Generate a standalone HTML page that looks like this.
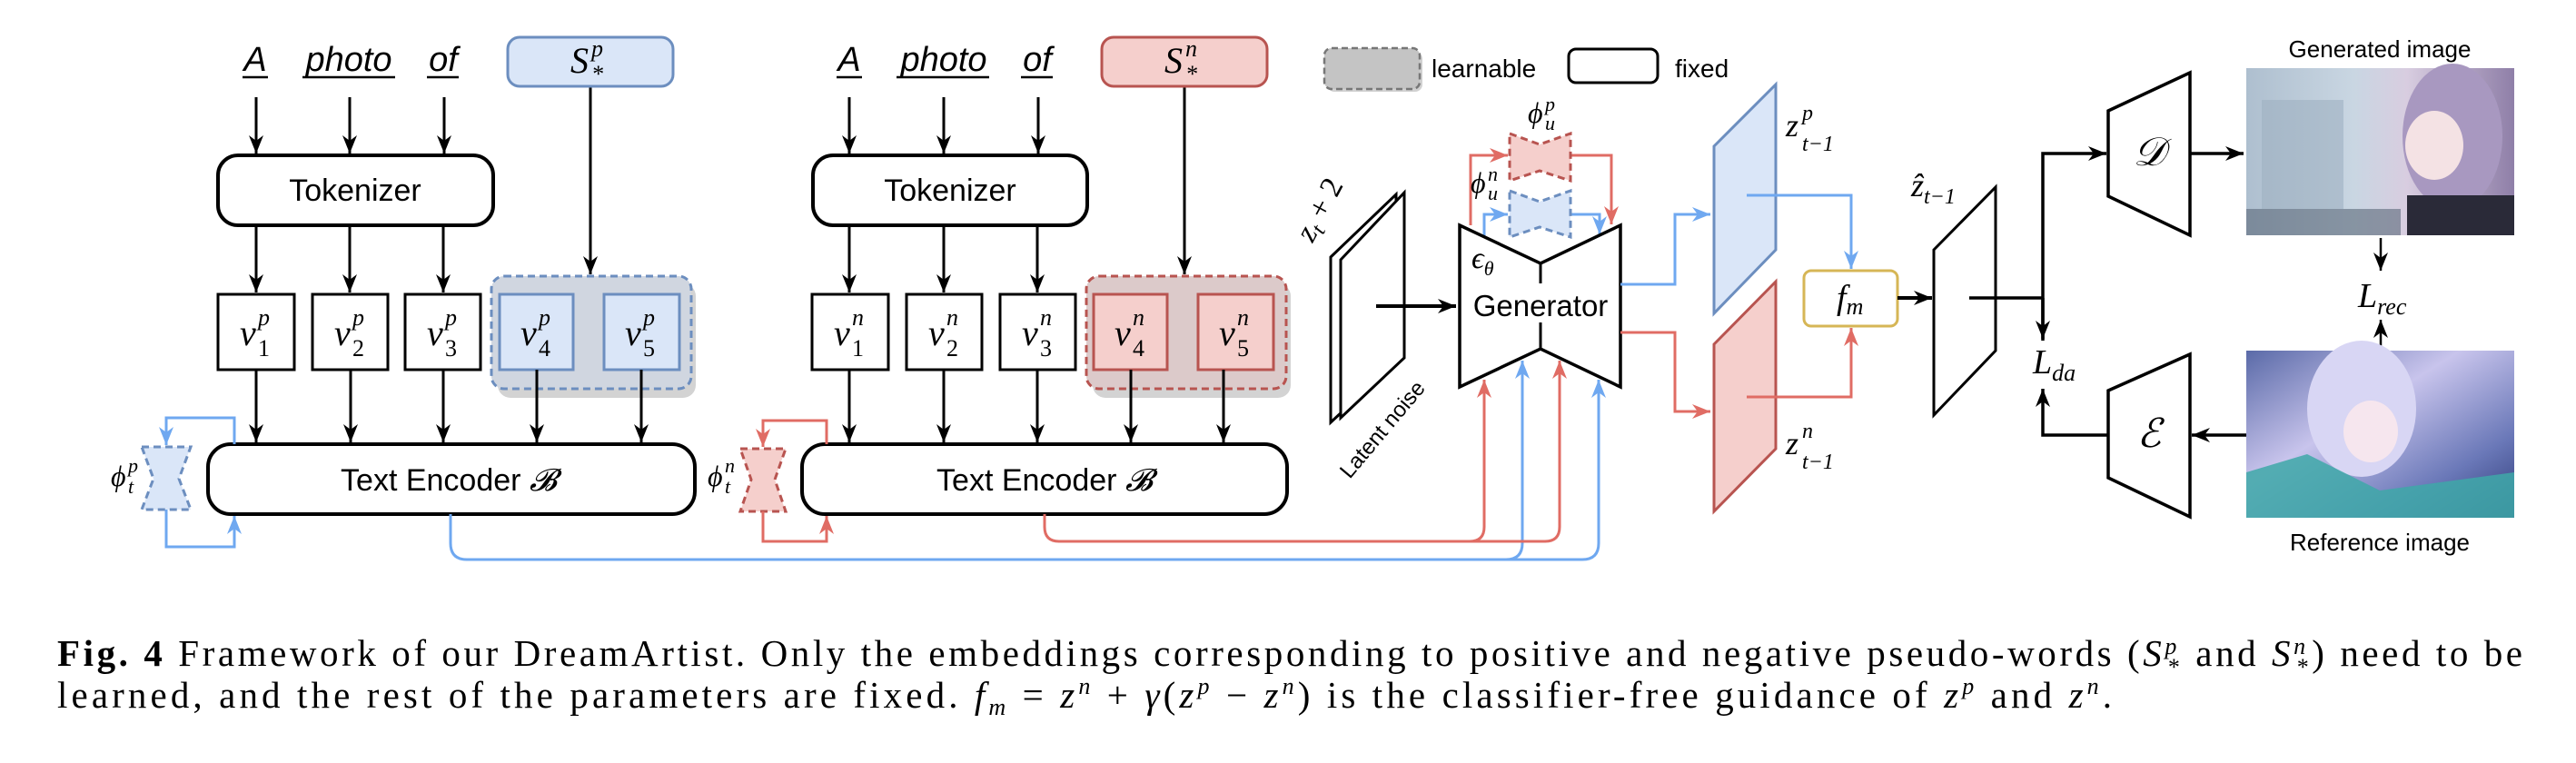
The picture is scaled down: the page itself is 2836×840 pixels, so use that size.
<!DOCTYPE html>
<html><head><meta charset="utf-8"><style>
html,body{margin:0;padding:0;background:#fff;}
svg{display:block;}
.m{font-family:"Liberation Serif",serif;font-style:italic;}
.s{font-family:"Liberation Sans",sans-serif;}
</style></head><body>
<svg width="2836" height="840" viewBox="0 0 2836 840" xmlns="http://www.w3.org/2000/svg">
<defs>
<marker id="ab" markerUnits="userSpaceOnUse" markerWidth="22" markerHeight="16" refX="20" refY="8" orient="auto"><path d="M0,0 L20,8 L0,16 L6,8 z" fill="#000"/></marker>
<marker id="abl" markerUnits="userSpaceOnUse" markerWidth="22" markerHeight="16" refX="20" refY="8" orient="auto"><path d="M0,0 L20,8 L0,16 L6,8 z" fill="#6fa8f0"/></marker>
<marker id="ar" markerUnits="userSpaceOnUse" markerWidth="22" markerHeight="16" refX="20" refY="8" orient="auto"><path d="M0,0 L20,8 L0,16 L6,8 z" fill="#e06c64"/></marker>
<linearGradient id="g1" x1="0" y1="0" x2="1" y2="0"><stop offset="0" stop-color="#aebfcf"/><stop offset="0.4" stop-color="#c9d6e2"/><stop offset="0.6" stop-color="#d8cde0"/><stop offset="1" stop-color="#8f7fa8"/></linearGradient>
<linearGradient id="g2" x1="0" y1="0" x2="1" y2="1"><stop offset="0" stop-color="#5a6aa8"/><stop offset="0.4" stop-color="#c8c4ec"/><stop offset="0.75" stop-color="#6a78b8"/><stop offset="1" stop-color="#2e3a78"/></linearGradient>
</defs>

<g stroke="#000" stroke-width="3" fill="none">
<line x1="282" y1="107" x2="282" y2="169" marker-end="url(#ab)"/>
<line x1="385" y1="107" x2="385" y2="169" marker-end="url(#ab)"/>
<line x1="489" y1="107" x2="489" y2="169" marker-end="url(#ab)"/>
<line x1="650" y1="95" x2="650" y2="302" marker-end="url(#ab)"/>
<rect x="240" y="171" width="303" height="77" rx="22" fill="#fff" stroke-width="4"/>
<line x1="282" y1="248" x2="282" y2="322" marker-end="url(#ab)"/>
<line x1="385" y1="248" x2="385" y2="322" marker-end="url(#ab)"/>
<line x1="488" y1="248" x2="488" y2="322" marker-end="url(#ab)"/>
</g>
<rect x="548" y="312" width="218" height="126" rx="14" fill="#c8c8c8" opacity="0.8"/>
<rect x="541" y="304" width="220" height="124" rx="14" fill="#d0d6e0" stroke="#6c8ebf" stroke-width="3" stroke-dasharray="8,5"/>
<g stroke-width="3">
<rect x="240" y="324" width="84" height="83" fill="#fff" stroke="#000"/>
<rect x="344" y="324" width="83" height="83" fill="#fff" stroke="#000"/>
<rect x="446" y="324" width="83" height="83" fill="#fff" stroke="#000"/>
<rect x="550" y="324" width="81" height="83" fill="#dae6f8" stroke="#6c8ebf"/>
<rect x="665" y="324" width="83" height="83" fill="#dae6f8" stroke="#6c8ebf"/>
</g>
<g stroke="#000" stroke-width="3" fill="none">
<line x1="282" y1="407" x2="282" y2="487" marker-end="url(#ab)"/>
<line x1="386" y1="407" x2="386" y2="487" marker-end="url(#ab)"/>
<line x1="488" y1="407" x2="488" y2="487" marker-end="url(#ab)"/>
<line x1="591" y1="407" x2="591" y2="487" marker-end="url(#ab)"/>
<line x1="706" y1="407" x2="706" y2="487" marker-end="url(#ab)"/>
<rect x="229" y="489" width="536" height="77" rx="25" fill="#fff" stroke-width="4"/>
</g>
<rect x="559" y="41" width="182" height="54" rx="13" fill="#dae6f8" stroke="#6c8ebf" stroke-width="3"/>
<polygon points="156,492 210,492 197,527 210,561 156,561 169,527" fill="#dae6f8" stroke="#6c8ebf" stroke-width="3" stroke-dasharray="8,5"/>
<g stroke="#6fa8f0" stroke-width="3" fill="none">
<polyline points="258,489 258,460 183,460 183,490" marker-end="url(#abl)"/>
<polyline points="183,561 183,602 258,602 258,568" marker-end="url(#abl)"/>
<path d="M496,566 L496,598 Q496,616 514,616 L1658,616 Q1676,616 1676,598 L1676,397" marker-end="url(#abl)"/>
<path d="M1600,616 L1742,616 Q1760,616 1760,598 L1760,418" marker-end="url(#abl)"/>
</g>

<g stroke="#000" stroke-width="3" fill="none">
<line x1="935" y1="107" x2="935" y2="169" marker-end="url(#ab)"/>
<line x1="1039" y1="107" x2="1039" y2="169" marker-end="url(#ab)"/>
<line x1="1143" y1="107" x2="1143" y2="169" marker-end="url(#ab)"/>
<line x1="1304" y1="95" x2="1304" y2="302" marker-end="url(#ab)"/>
<rect x="895" y="171" width="302" height="77" rx="22" fill="#fff" stroke-width="4"/>
<line x1="935" y1="248" x2="935" y2="322" marker-end="url(#ab)"/>
<line x1="1039" y1="248" x2="1039" y2="322" marker-end="url(#ab)"/>
<line x1="1142" y1="248" x2="1142" y2="322" marker-end="url(#ab)"/>
</g>
<rect x="1203" y="312" width="218" height="126" rx="14" fill="#c8c8c8" opacity="0.8"/>
<rect x="1196" y="304" width="220" height="124" rx="14" fill="#dccaca" stroke="#b85450" stroke-width="3" stroke-dasharray="8,5"/>
<g stroke-width="3">
<rect x="894" y="324" width="84" height="83" fill="#fff" stroke="#000"/>
<rect x="998" y="324" width="83" height="83" fill="#fff" stroke="#000"/>
<rect x="1101" y="324" width="83" height="83" fill="#fff" stroke="#000"/>
<rect x="1204" y="324" width="81" height="83" fill="#f5cfcc" stroke="#b85450"/>
<rect x="1319" y="324" width="83" height="83" fill="#f5cfcc" stroke="#b85450"/>
</g>
<g stroke="#000" stroke-width="3" fill="none">
<line x1="935" y1="407" x2="935" y2="487" marker-end="url(#ab)"/>
<line x1="1039" y1="407" x2="1039" y2="487" marker-end="url(#ab)"/>
<line x1="1142" y1="407" x2="1142" y2="487" marker-end="url(#ab)"/>
<line x1="1245" y1="407" x2="1245" y2="487" marker-end="url(#ab)"/>
<line x1="1347" y1="407" x2="1347" y2="487" marker-end="url(#ab)"/>
<rect x="883" y="489" width="534" height="77" rx="25" fill="#fff" stroke-width="4"/>
</g>
<rect x="1213" y="41" width="182" height="54" rx="13" fill="#f5cfcc" stroke="#b85450" stroke-width="3"/>
<polygon points="815,494 865,494 853,528 865,563 815,563 827,528" fill="#f5cfcc" stroke="#b85450" stroke-width="3" stroke-dasharray="8,5"/>
<g stroke="#e06c64" stroke-width="3" fill="none">
<polyline points="910,489 910,463 840,463 840,492" marker-end="url(#ar)"/>
<polyline points="840,563 840,596 910,596 910,568" marker-end="url(#ar)"/>
<path d="M1150,566 L1150,580 Q1150,596 1166,596 L1618,596 Q1634,596 1634,580 L1634,418" marker-end="url(#ar)"/>
<path d="M1600,596 L1701,596 Q1717,596 1717,580 L1717,397" marker-end="url(#ar)"/>
</g>

<rect x="1461" y="57" width="105" height="44" rx="8" fill="#bdbdbd" opacity="0.7"/>
<rect x="1458" y="53" width="105" height="45" rx="8" fill="#c4c4c4" stroke="#777" stroke-width="2.5" stroke-dasharray="7,4"/>
<rect x="1727" y="54" width="98" height="37" rx="8" fill="#fff" stroke="#000" stroke-width="3"/>
<text x="1576" y="85" class="s" font-size="28">learnable</text>
<text x="1844" y="85" class="s" font-size="28">fixed</text>

<g stroke="#000" stroke-width="3" fill="#fff">
<polygon points="1465,283 1537,214 1537,398 1465,465"/>
<polygon points="1476,286 1546,212 1546,394 1476,460"/>
</g>
<text transform="translate(1445,268) rotate(-62)" class="m" font-size="34">z<tspan font-size="24" dy="6">t</tspan><tspan dy="-6" font-style="normal"> + 2</tspan></text>
<text transform="translate(1486,528) rotate(-50)" class="s" font-size="24">Latent noise</text>
<line x1="1515" y1="337" x2="1603" y2="337" stroke="#000" stroke-width="4" marker-end="url(#ab)"/>

<g stroke="#e06c64" stroke-width="3" fill="none">
<polyline points="1619,248 1619,171 1660,171" marker-end="url(#ar)"/>
<polyline points="1729,171 1774,171 1774,247" marker-end="url(#ar)"/>
</g>
<g stroke="#6fa8f0" stroke-width="3" fill="none">
<polyline points="1634,260 1634,236 1660,236" marker-end="url(#abl)"/>
<polyline points="1729,236 1761,236 1761,258" marker-end="url(#abl)"/>
</g>
<polygon points="1662,147 1695,159 1729,147 1729,199 1695,188 1662,199" fill="#f5cfcc" stroke="#b85450" stroke-width="3" stroke-dasharray="8,5"/>
<polygon points="1662,210 1695,222 1729,210 1729,261 1695,250 1662,261" fill="#dae6f8" stroke="#6c8ebf" stroke-width="3" stroke-dasharray="8,5"/>
<polygon points="1607,248 1696,290 1784,248 1784,426 1696,384 1607,426" fill="#fff" stroke="#000" stroke-width="3.5"/>
<line x1="1696" y1="290" x2="1696" y2="312" stroke="#000" stroke-width="3"/>
<line x1="1696" y1="355" x2="1696" y2="384" stroke="#000" stroke-width="3"/>
<text x="1696" y="348" class="s" font-size="33" text-anchor="middle">Generator</text>
<text x="1620" y="295" class="m" font-size="34">ϵ<tspan font-size="22" dy="8">θ</tspan></text>

<g stroke-width="3" fill="none">
<polyline points="1784,313 1844,313 1844,236 1883,236" stroke="#6fa8f0" marker-end="url(#abl)"/>
<polyline points="1784,366 1844,366 1844,453 1883,453" stroke="#e06c64" marker-end="url(#ar)"/>
</g>
<polygon points="1887,161 1955,93 1955,275 1887,345" fill="#dae6f8" stroke="#6c8ebf" stroke-width="3"/>
<polygon points="1887,379 1955,310 1955,494 1887,563" fill="#f5cfcc" stroke="#b85450" stroke-width="3"/>
<g stroke-width="3" fill="none">
<polyline points="1923,215 2038,215 2038,296" stroke="#6fa8f0" marker-end="url(#abl)"/>
<polyline points="1923,437 2038,437 2038,361" stroke="#e06c64" marker-end="url(#ar)"/>
</g>
<rect x="1986" y="298" width="103" height="61" rx="8" fill="#fff" stroke="#d6b656" stroke-width="3"/>
<text x="2022" y="340" class="m" font-size="38">f<tspan font-size="26" dy="6">m</tspan></text>

<line x1="2089" y1="328" x2="2127" y2="328" stroke="#000" stroke-width="4" marker-end="url(#ab)"/>
<polygon points="2129,275 2197,206 2197,386 2129,457" fill="#fff" stroke="#000" stroke-width="3"/>
<g stroke="#000" stroke-width="3.5" fill="none">
<polyline points="2168,328 2249,328"/>
<polyline points="2249,375 2249,169 2319,169" marker-end="url(#ab)"/>
<line x1="2249" y1="328" x2="2249" y2="373" marker-end="url(#ab)"/>
<polyline points="2321,479 2249,479 2249,428" marker-end="url(#ab)"/>
<line x1="2411" y1="169" x2="2470" y2="169" marker-end="url(#ab)"/>
<line x1="2473" y1="479" x2="2413" y2="479" marker-end="url(#ab)"/>
<line x1="2621" y1="262" x2="2621" y2="298" stroke-width="2.5" marker-end="url(#ab)"/>
<line x1="2621" y1="386" x2="2621" y2="352" stroke-width="2.5" marker-end="url(#ab)"/>
<polygon points="2321,122 2411,80 2411,259 2321,216" fill="#fff"/>
<polygon points="2321,430 2411,390 2411,569 2321,526" fill="#fff"/>
</g>
<text x="2366" y="182" class="m" font-size="44" text-anchor="middle">𝒟</text>
<text x="2366" y="492" class="m" font-size="44" text-anchor="middle">ℰ</text>

<rect x="2473" y="75" width="295" height="184" fill="url(#g1)"/>
<rect x="2490" y="110" width="90" height="120" fill="#9fb0c2" opacity="0.6"/>
<ellipse cx="2700" cy="150" rx="55" ry="80" fill="#a898c0"/>
<ellipse cx="2680" cy="160" rx="32" ry="38" fill="#f4e2e4"/>
<rect x="2650" y="215" width="118" height="44" fill="#2a2a38"/>
<rect x="2473" y="230" width="170" height="29" fill="#5a6878" opacity="0.6"/>
<text x="2620" y="63" class="s" font-size="26" text-anchor="middle">Generated image</text>
<rect x="2473" y="386" width="295" height="184" fill="url(#g2)"/>
<ellipse cx="2600" cy="450" rx="60" ry="75" fill="#d8d6f4"/>
<ellipse cx="2610" cy="475" rx="30" ry="34" fill="#f6e6ee"/>
<path d="M2473,520 L2540,500 L2620,540 L2768,520 L2768,570 L2473,570 z" fill="#3ea8a8" opacity="0.85"/>
<text x="2620" y="606" class="s" font-size="26" text-anchor="middle">Reference image</text>

<text x="2238" y="411" class="m" font-size="38">L<tspan font-size="26" dy="8">da</tspan></text>
<text x="2596" y="338" class="m" font-size="38">L<tspan font-size="26" dy="8">rec</tspan></text>
<text x="2104" y="216" class="m" font-size="36">ẑ<tspan font-size="24" dy="8">t−1</tspan></text>
<text x="1966" y="150" class="m" font-size="36">z</text><text x="1984" y="132" class="m" font-size="24">p</text><text x="1984" y="166" class="m" font-size="24">t−1</text>
<text x="1966" y="500" class="m" font-size="36">z</text><text x="1984" y="482" class="m" font-size="24">n</text><text x="1984" y="516" class="m" font-size="24">t−1</text>
<text x="1682" y="135" class="m" font-size="32">ϕ</text><text x="1701" y="122" class="m" font-size="22">p</text><text x="1701" y="143" class="m" font-size="22">u</text>
<text x="1619" y="212" class="m" font-size="32">ϕ</text><text x="1638" y="199" class="m" font-size="22">n</text><text x="1638" y="220" class="m" font-size="22">u</text>
<text x="122" y="535" class="m" font-size="32">ϕ</text><text x="141" y="520" class="m" font-size="22">p</text><text x="141" y="543" class="m" font-size="22">t</text>
<text x="779" y="535" class="m" font-size="32">ϕ</text><text x="798" y="520" class="m" font-size="22">n</text><text x="798" y="543" class="m" font-size="22">t</text>

<g class="s" font-size="38" font-style="italic" text-anchor="middle">
<text x="281" y="78">A</text><text x="384" y="78">photo</text><text x="488" y="78">of</text>
<text x="935" y="78">A</text><text x="1039" y="78">photo</text><text x="1142" y="78">of</text>
</g>
<g stroke="#000" stroke-width="2.5">
<line x1="267" y1="85" x2="295" y2="85"/><line x1="333" y1="85" x2="435" y2="85"/><line x1="470" y1="85" x2="505" y2="85"/>
<line x1="921" y1="85" x2="949" y2="85"/><line x1="987" y1="85" x2="1089" y2="85"/><line x1="1124" y1="85" x2="1159" y2="85"/>
</g>
<text x="628" y="80" class="m" font-size="40">S</text><text x="651" y="62" class="m" font-size="26">p</text><text x="651" y="90" class="m" font-size="26">*</text>
<text x="1282" y="80" class="m" font-size="40">S</text><text x="1305" y="62" class="m" font-size="26">n</text><text x="1305" y="90" class="m" font-size="26">*</text>

<g class="s" font-size="34" text-anchor="middle">
<text x="391" y="221">Tokenizer</text><text x="1046" y="221">Tokenizer</text>
<text x="494" y="540">Text Encoder <tspan class="m">𝓑</tspan></text>
<text x="1150" y="540">Text Encoder <tspan class="m">𝓑</tspan></text>
</g>

<g class="m">
<text x="264" y="380" font-size="40">v</text><text x="284" y="358" font-size="26">p</text><text x="284" y="392" font-size="26" font-style="normal">1</text>
<text x="368" y="380" font-size="40">v</text><text x="388" y="358" font-size="26">p</text><text x="388" y="392" font-size="26" font-style="normal">2</text>
<text x="470" y="380" font-size="40">v</text><text x="490" y="358" font-size="26">p</text><text x="490" y="392" font-size="26" font-style="normal">3</text>
<text x="573" y="380" font-size="40">v</text><text x="593" y="358" font-size="26">p</text><text x="593" y="392" font-size="26" font-style="normal">4</text>
<text x="688" y="380" font-size="40">v</text><text x="708" y="358" font-size="26">p</text><text x="708" y="392" font-size="26" font-style="normal">5</text>
<text x="918" y="380" font-size="40">v</text><text x="938" y="358" font-size="26">n</text><text x="938" y="392" font-size="26" font-style="normal">1</text>
<text x="1022" y="380" font-size="40">v</text><text x="1042" y="358" font-size="26">n</text><text x="1042" y="392" font-size="26" font-style="normal">2</text>
<text x="1125" y="380" font-size="40">v</text><text x="1145" y="358" font-size="26">n</text><text x="1145" y="392" font-size="26" font-style="normal">3</text>
<text x="1227" y="380" font-size="40">v</text><text x="1247" y="358" font-size="26">n</text><text x="1247" y="392" font-size="26" font-style="normal">4</text>
<text x="1342" y="380" font-size="40">v</text><text x="1362" y="358" font-size="26">n</text><text x="1362" y="392" font-size="26" font-style="normal">5</text>
</g>

<text x="63" y="733" font-family="Liberation Serif, serif" font-size="41" textLength="2714" lengthAdjust="spacing"><tspan font-weight="bold">Fig. 4</tspan>  Framework of our DreamArtist. Only the embeddings corresponding to positive and negative pseudo-words (<tspan font-style="italic">S</tspan><tspan font-size="26" font-style="italic" dy="-13">p</tspan><tspan font-size="26" dx="-13" dy="23">*</tspan><tspan dy="-10"> and </tspan><tspan font-style="italic">S</tspan><tspan font-size="26" font-style="italic" dy="-13">n</tspan><tspan font-size="26" dx="-13" dy="23">*</tspan><tspan dy="-10">) need to be</tspan></text>
<text x="63" y="779" font-family="Liberation Serif, serif" font-size="41" textLength="2262" lengthAdjust="spacing">learned, and the rest of the parameters are fixed. <tspan font-style="italic">f</tspan><tspan font-size="26" font-style="italic" dy="8">m</tspan><tspan dy="-8"> = </tspan><tspan font-style="italic">z</tspan><tspan font-size="26" font-style="italic" dy="-15">n</tspan><tspan dy="15"> + </tspan><tspan font-style="italic">γ</tspan>(<tspan font-style="italic">z</tspan><tspan font-size="26" font-style="italic" dy="-15">p</tspan><tspan dy="15"> − </tspan><tspan font-style="italic">z</tspan><tspan font-size="26" font-style="italic" dy="-15">n</tspan><tspan dy="15">) is the classifier-free guidance of </tspan><tspan font-style="italic">z</tspan><tspan font-size="26" font-style="italic" dy="-15">p</tspan><tspan dy="15"> and </tspan><tspan font-style="italic">z</tspan><tspan font-size="26" font-style="italic" dy="-15">n</tspan><tspan dy="15">.</tspan></text>
</svg>
</body></html>
